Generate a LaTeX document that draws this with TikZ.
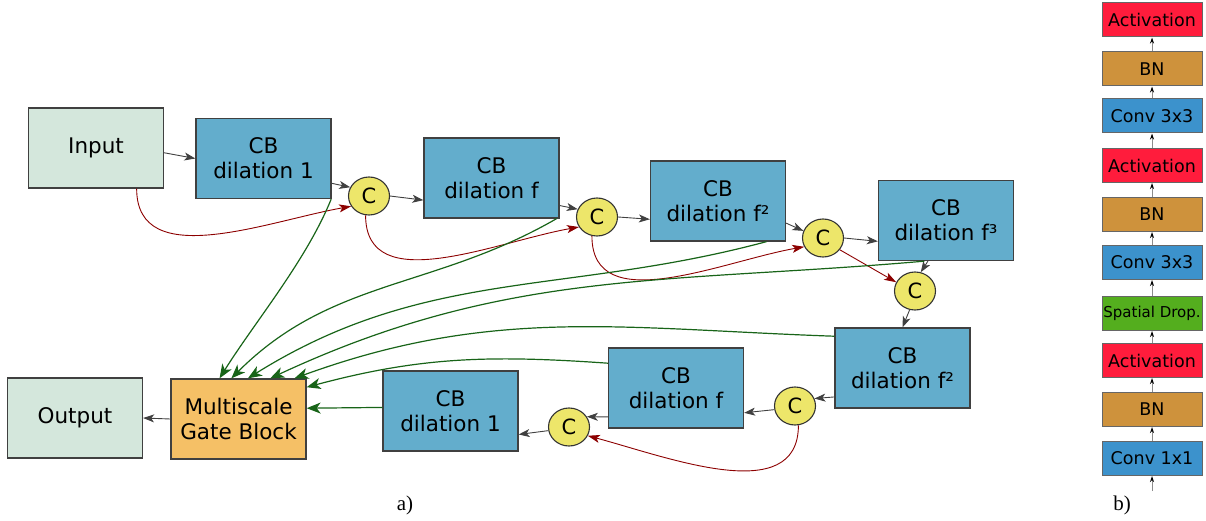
\documentclass[tikz,border=0pt]{standalone}
\usepackage{fontspec}
\setmainfont{DejaVu Sans}
\newfontfamily\capfont{Liberation Serif}
\usepackage{tikz}
\usetikzlibrary{arrows.meta,shapes.geometric}

\definecolor{cbblue}{RGB}{99,173,204}
\definecolor{ioshade}{RGB}{212,231,220}
\definecolor{gateorange}{RGB}{245,192,102}
\definecolor{catyellow}{RGB}{237,230,106}
\definecolor{actred}{RGB}{255,28,60}
\definecolor{bntan}{RGB}{206,146,60}
\definecolor{convblue}{RGB}{60,146,204}
\definecolor{dropgreen}{RGB}{84,174,30}
\definecolor{skipred}{RGB}{140,0,0}
\definecolor{gategreen}{RGB}{24,100,24}

\tikzset{
    box/.style={draw=black!75, line width=1.3pt, align=center, inner sep=0pt,
        minimum width=135pt, minimum height=80pt, font=\fontsize{21.5}{25}\selectfont},
    cbbox/.style={box, fill=cbblue},
    iobox/.style={box, fill=ioshade},
    gatebox/.style={box, fill=gateorange},
    cat/.style={ellipse, draw=black!80, line width=1.1pt, fill=catyellow, inner sep=0pt,
        minimum width=41pt, minimum height=38pt, font=\fontsize{21}{25}\selectfont},
    layer/.style={draw=black!60, line width=1pt, inner sep=0pt, minimum width=100pt,
        minimum height=34pt, font=\fontsize{17.5}{20}\selectfont},
    blk/.style={draw=black!75, line width=0.9pt, -{Stealth[length=11pt,width=8pt,inset=3pt]}},
    skip/.style={draw=skipred, line width=0.9pt, -{Stealth[length=12pt,width=8pt,inset=3pt]}},
    gate/.style={draw=gategreen, line width=1.2pt, -{Stealth[length=14pt,width=11pt,inset=4pt]}},
    up/.style={draw=black!45, line width=1pt, -{Stealth[length=6pt,width=4pt,black]}}
}

\begin{document}
\begin{tikzpicture}[x=1pt, y=1pt]
            \useasboundingbox (0,0) rectangle (1206,-521);

            \node[iobox] (inp) at (96.00,-148.00) {Input};
            \node[cbbox] (cbA) at (263.50,-158.50) {CB\\dilation 1};
            \node[cat] (cA) at (369.00,-196.00) {C};
            \node[cbbox] (cbB) at (491.50,-178.00) {CB\\dilation f};
            \node[cat] (cB) at (597.00,-217.00) {C};
            \node[cbbox] (cbC) at (718.00,-201.00) {CB\\dilation f²};
            \node[cat] (cC) at (823.00,-238.00) {C};
            \node[cbbox] (cbD) at (946.00,-220.50) {CB\\dilation f³};
            \node[cat] (cD) at (915.00,-291.00) {C};
            \node[cbbox] (cbE) at (902.50,-368.00) {CB\\dilation f²};
            \node[cat] (cE) at (795.00,-406.00) {C};
            \node[cbbox] (cbF) at (676.00,-388.00) {CB\\dilation f};
            \node[cat] (cF) at (569.00,-427.00) {C};
            \node[cbbox] (cbG) at (450.50,-411.00) {CB\\dilation 1};
            \node[gatebox] (mgb) at (238.50,-419.00) {Multiscale\\Gate Block};
            \node[iobox] (out) at (75.00,-418.00) {Output};

            \draw[blk] (inp.-4) -- (cbA.west);
            \draw[blk] (cbA.-20) -- (cA.155);
            \draw[blk] (cA.east) -- (cbB.198);
            \draw[blk] (cbB.-22) -- (cB.158);
            \draw[blk] (cB.east) -- (cbC.195);
            \draw[blk] (cbC.-18) -- (cC.160);
            \draw[blk] (cC.east) -- (cbD.197);
            \draw[blk] (cbD.-114) -- (cD.73);
            \draw[blk] (cD.-106) -- (cbE.north);
            \draw[blk] (cbE.203) -- (cE.21);
            \draw[blk] (cE.190) -- (cbF.-20);
            \draw[blk] (cbF.203) -- (cF.30);
            \draw[blk] (cF.190) -- (cbG.-19);
            \draw[blk] (mgb.west) -- (out.east);

            \draw[skip] (inp.-45) to[out=-90, in=190] (cA.210);
            \draw[skip] (cA.-100) to[out=-90, in=190] (cB.209);
            \draw[skip] (cB.-105) to[out=-90, in=190] (cC.205);
            \draw[skip] (cC.-35) -- (cD.155);
            \draw[skip] (cE.-80) to[out=-90, in=-15] (cF.-25);

            \draw[gate] (cbA.-31) to[out=-112, in=58, looseness=0.8] (mgb.115);
            \draw[gate] (cbB.-32) to[out=-150, in=45] (mgb.100);
            \draw[gate] (cbC.-40) to[out=-165, in=32] (mgb.77);
            \draw[gate] (cbD.-118) to[out=-175, in=25] (mgb.52);
            \draw[gate] (cbE.155) to[out=178, in=20] (mgb.36);
            \draw[gate] (cbF.160) to[out=176, in=15] (mgb.25);
            \draw[gate] (cbG.177) -- (mgb.9);

            \node[layer, fill=actred] (actC) at (1152.00,-20.00) {Activation};
            \node[layer, fill=bntan] (bnC) at (1152.00,-69.00) {BN};
            \node[layer, fill=convblue] (convC) at (1152.00,-116.00) {Conv 3x3};
            \node[layer, fill=actred] (actB) at (1152.00,-165.50) {Activation};
            \node[layer, fill=bntan] (bnB) at (1152.00,-214.50) {BN};
            \node[layer, fill=convblue] (convB) at (1152.00,-262.50) {Conv 3x3};
            \node[layer, fill=dropgreen, font=\fontsize{15}{18}\selectfont] (drop) at (1152.00,-313.50) {Spatial Drop.};
            \node[layer, fill=actred] (actA) at (1152.00,-360.50) {Activation};
            \node[layer, fill=bntan] (bnA) at (1152.00,-409.50) {BN};
            \node[layer, fill=convblue] (convA) at (1152.00,-458.50) {Conv 1x1};
            \coordinate (feed) at (1152.00,-491.00);

            \draw[up] (feed) -- (convA.south);
            \draw[up] (convA) -- (bnA);
            \draw[up] (bnA) -- (actA);
            \draw[up] (actA) -- (drop);
            \draw[up] (drop) -- (convB);
            \draw[up] (convB) -- (bnB);
            \draw[up] (bnB) -- (actB);
            \draw[up] (actB) -- (convC);
            \draw[up] (convC) -- (bnC);
            \draw[up] (bnC) -- (actC);

            \node[font=\capfont\fontsize{21}{25}\selectfont] (capA) at (405.00,-505.00) {a)};
            \node[font=\capfont\fontsize{21}{25}\selectfont] (capB) at (1122.00,-505.00) {b)};
        \end{tikzpicture}
\end{document}
